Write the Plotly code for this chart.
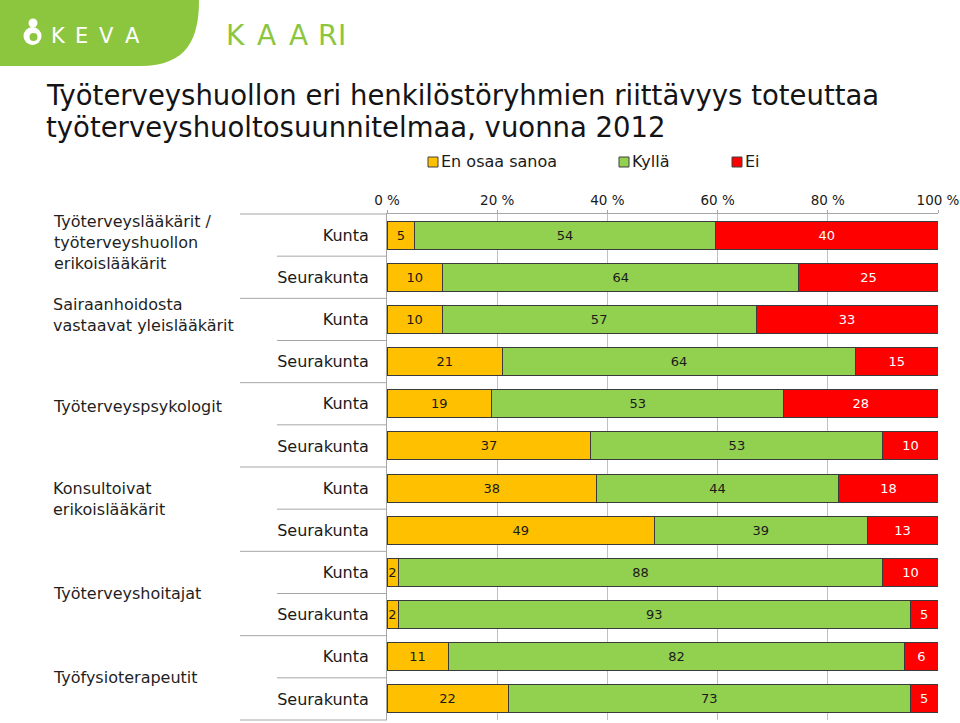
import plotly.graph_objects as go

# ---------------- data ----------------
groups = [
    "Työterveyslääkärit /<br>työterveyshuollon<br>erikoislääkärit",
    "Sairaanhoidosta<br>vastaavat yleislääkärit",
    "Työterveyspsykologit",
    "Konsultoivat<br>erikoislääkärit",
    "Työterveyshoitajat",
    "Työfysioterapeutit",
]
subgroups = ["Kunta", "Seurakunta"]
series_names = ["En osaa sanoa", "Kyllä", "Ei"]
en_osaa_sanoa = [5, 10, 10, 21, 19, 37, 38, 49, 2, 2, 11, 22]
kylla = [54, 64, 57, 64, 53, 53, 44, 39, 88, 93, 82, 73]
ei = [40, 25, 33, 15, 28, 10, 18, 13, 10, 5, 6, 5]
x_tickvals = [0, 20, 40, 60, 80, 100]
x_ticktext = ["0 %", "20 %", "40 %", "60 %", "80 %", "100 %"]
title_lines = ["Työterveyshuollon eri henkilöstöryhmien riittävyys toteuttaa",
               "työterveyshuoltosuunnitelmaa, vuonna 2012"]

# ---------------- styling ----------------
colors = ["#FFC000", "#92D050", "#FF0000"]
text_colors = ["#1a1a1a", "#1a1a1a", "#FFFFFF"]
FONT = "DejaVu Sans"
W, H = 960, 723
L, R, T, B = 387, 938, 214, 720  # plot area in pixels


def px(x):
    return (x - L) / (R - L)


def py(y):
    return (B - y) / (B - T)


n_rows = len(groups) * len(subgroups)
rows = list(range(n_rows))
row_labels = [subgroups[i % len(subgroups)] for i in rows]

fig = go.Figure()
for name, vals, col, tcol in zip(series_names, [en_osaa_sanoa, kylla, ei], colors, text_colors):
    fig.add_trace(go.Bar(
        name=name, x=vals, y=rows, orientation="h",
        marker=dict(color=col, line=dict(color="#3a3a3a", width=1)),
        text=vals, texttemplate="%{text}", textposition="inside",
        insidetextanchor="middle", textangle=0,
        insidetextfont=dict(family=FONT, size=13, color=tcol),
        showlegend=False, hoverinfo="skip",
    ))

shapes = []
annotations = []

# category separators (outer group boundaries long, inner boundaries short)
for k in range(n_rows + 1):
    yb = 1 - k / n_rows
    x0 = px(240) if k % 2 == 0 else px(277)
    shapes.append(dict(type="line", xref="paper", yref="paper", x0=x0, x1=0,
                       y0=yb, y1=yb, line=dict(color="#A6A6A6", width=1)))

# group labels
group_label_idx = [0.18, 1.9, 4.07, 6.27, 8.5, 10.49]
for g, idx in zip(groups, group_label_idx):
    annotations.append(dict(
        xref="paper", yref="paper", x=px(51), y=(n_rows - 0.5 - idx) / n_rows,
        xanchor="left", yanchor="middle", align="left", showarrow=False,
        text=g, font=dict(family=FONT, size=16, color="#1f1f1f")))

# title
for line, yc in zip(title_lines, [95, 127]):
    annotations.append(dict(
        xref="paper", yref="paper", x=px(44), y=py(yc), xanchor="left",
        yanchor="middle", showarrow=False, text=line,
        font=dict(family=FONT, size=27.5, color="#141414")))

# manual legend
legend_x = [428, 619, 732]
for name, col, mx in zip(series_names, colors, legend_x):
    shapes.append(dict(type="rect", xref="paper", yref="paper",
                       x0=px(mx), x1=px(mx + 10), y0=py(167), y1=py(157),
                       fillcolor=col, line=dict(color="#404040", width=1)))
    annotations.append(dict(
        xref="paper", yref="paper", x=px(mx + 11), y=py(162), xanchor="left",
        yanchor="middle", showarrow=False, text=name,
        font=dict(family=FONT, size=16, color="#1a1a1a")))

# logo block
logo_green = "#8CC63F"

shapes.append(dict(
    type="path", xref="paper", yref="paper",
    path=("M {:.5f},{:.5f} L {:.5f},{:.5f} C {:.5f},{:.5f} {:.5f},{:.5f} {:.5f},{:.5f} "
          "L {:.5f},{:.5f} Z").format(px(0), py(0), px(199), py(0), px(199), py(38),
                                      px(188), py(66), px(140), py(66), px(0), py(66)),
    fillcolor=logo_green, line=dict(width=0), layer="above"))


def circle(cx, cy, r, col):
    return dict(type="circle", xref="paper", yref="paper",
                x0=px(cx - r), x1=px(cx + r), y0=py(cy + r), y1=py(cy - r),
                fillcolor=col, line=dict(width=0), layer="above")


shapes.append(circle(33, 23, 4.5, "white"))
shapes.append(circle(32.5, 36, 9, "white"))
shapes.append(circle(33.5, 37, 4, logo_green))

for ch, cx in zip("KEVA", [58, 81, 106, 132]):
    annotations.append(dict(xref="paper", yref="paper", x=px(cx), y=py(36.5),
                            xanchor="center", yanchor="middle", showarrow=False,
                            text=ch, font=dict(family=FONT, size=21, color="white")))
for ch, cx in zip("KAARI", [235, 266, 298, 327, 342]):
    annotations.append(dict(xref="paper", yref="paper", x=px(cx), y=py(35.5),
                            xanchor="center", yanchor="middle", showarrow=False,
                            text=ch, font=dict(family=FONT, size=28, color=logo_green)))

fig.update_layout(
    width=W, height=H, barmode="stack", barnorm="percent", bargap=0.336,
    margin=dict(l=L, r=W - R, t=T, b=H - B, autoexpand=False),
    paper_bgcolor="white", plot_bgcolor="white",
    font=dict(family=FONT, color="#1a1a1a"),
    uniformtext=dict(minsize=13, mode="show"),
    xaxis=dict(side="top", range=[0, 100], tickvals=x_tickvals, ticktext=x_ticktext,
               showgrid=True, gridcolor="#C0C0C0", gridwidth=1,
               showline=True, linecolor="#A6A6A6", linewidth=1,
               ticks="outside", ticklen=3, tickcolor="#A6A6A6",
               tickfont=dict(family=FONT, size=13.5, color="#1a1a1a"), zeroline=False,
               fixedrange=True),
    yaxis=dict(range=[n_rows - 0.5, -0.5], tickvals=rows, ticktext=row_labels,
               showgrid=False, zeroline=False, showline=True, linecolor="#A6A6A6",
               ticks="", ticklabelstandoff=14,
               tickfont=dict(family=FONT, size=16, color="#1a1a1a"), fixedrange=True),
    shapes=shapes, annotations=annotations, showlegend=False,
)

fig.write_html("out.html", config={"displayModeBar": False},
               post_script="document.body.style.margin='0px';document.body.style.overflow='hidden';")
